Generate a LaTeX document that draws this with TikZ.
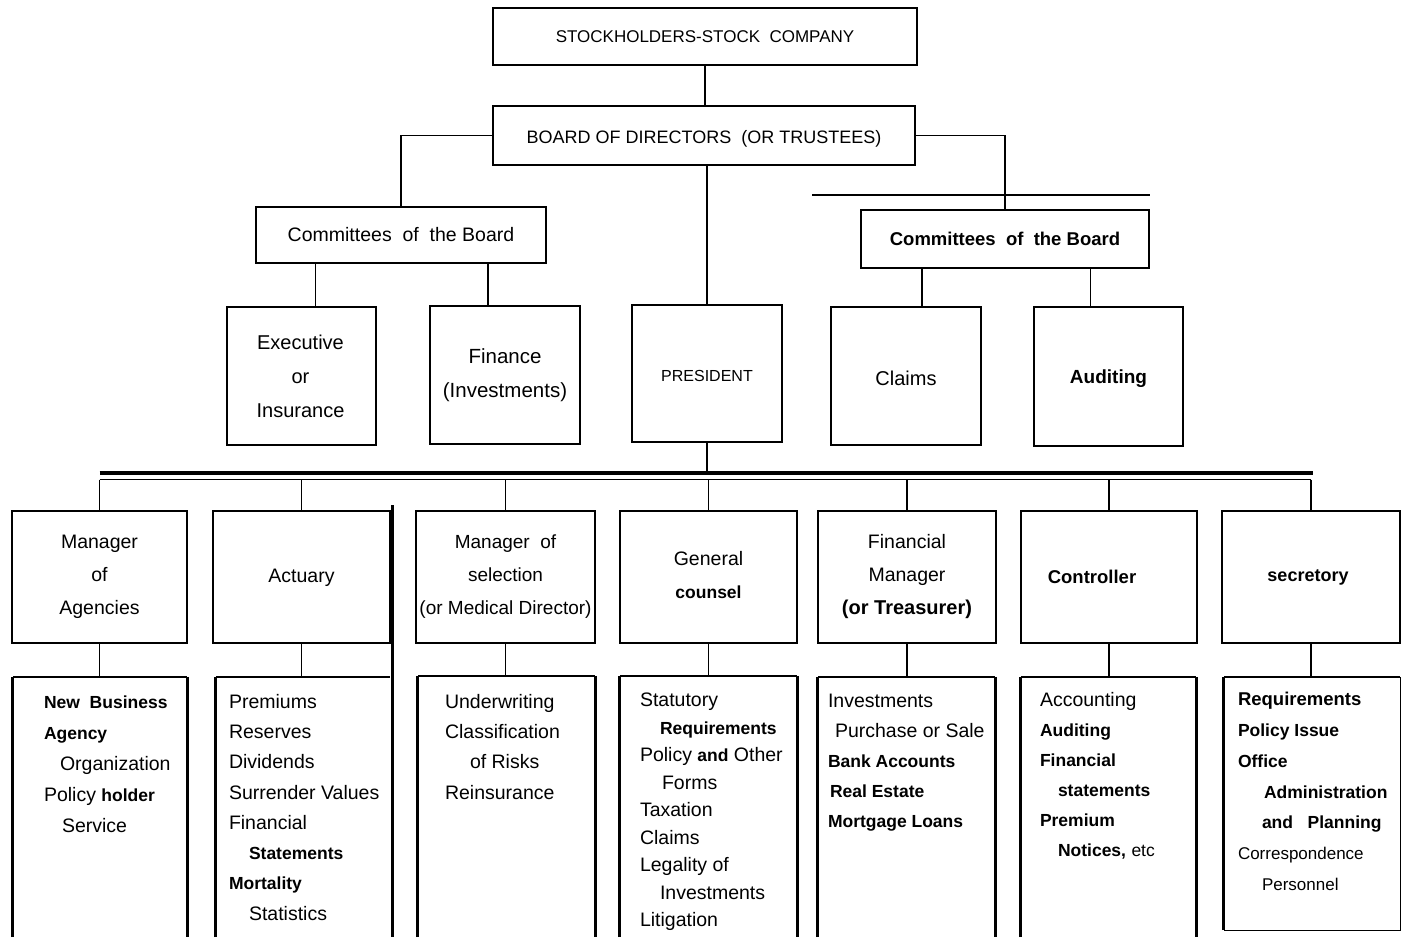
\documentclass[tikz,border=0pt]{standalone}
\usepackage{fontspec}
\setmainfont{Liberation Sans}
\usetikzlibrary{fit}
\newcommand\bld[1]{{\fontsize{17.5}{20}\selectfont\bfseries #1}}
\begin{document}
\begin{tikzpicture}[x=1pt,y=-1pt,
  box/.style={draw,line width=1.4pt,inner sep=0pt},
  heavy/.style={box,line width=2.6pt},
  wire/.style={line width=1.4pt},
  edge/.style={line width=3pt},
  open/.style={inner sep=0pt},
  lbl/.style={inner sep=0pt,align=center,anchor=center,font=\fontsize{19.5}{33}\selectfont},
  listtxt/.style={anchor=north west,align=left,inner sep=0pt,font=\fontsize{19.5}{30}\selectfont},
  ]
\useasboundingbox (0,0) rectangle (1405,937);

% top levels
\node[box,fit={(493,8) (917,65)}] (stock) {};
\node[box,fit={(493,106) (915,165)}] (board) {};
\node[box,fit={(256,207) (546,263)}] (cbL) {};
\node[box,fit={(861,210) (1149,268)}] (cbR) {};
\node[box,fit={(227,307) (376,445)}] (exec) {};
\node[heavy,fit={(430,306) (580,444)}] (fin) {};
\node[heavy,fit={(632,305) (782,442)}] (pres) {};
\node[heavy,fit={(831,307) (981,445)}] (claims) {};
\node[heavy,fit={(1034,307) (1183,446)}] (audit) {};

\node[lbl,font=\fontsize{17}{20}\selectfont] (tstock) at (stock.center) {STOCKHOLDERS-STOCK\ \ COMPANY};
\node[lbl,font=\fontsize{18}{20}\selectfont] (tboard) at ([yshift=-3pt]board.center) {BOARD\ OF\ DIRECTORS\ \ (OR\ TRUSTEES)};
\node[lbl] (tcbL) at (cbL.center) {Committees\ \ of\ \ the\ Board};
\node[lbl,font=\fontsize{18.5}{20}\selectfont\bfseries] (tcbR) at (cbR.center) {Committees\ \ of\ \ the\ Board};
\node[lbl,font=\fontsize{20}{34}\selectfont] (texec) at ([xshift=-1pt]exec.center) {Executive\\or\\Insurance};
\node[lbl,font=\fontsize{20.5}{34}\selectfont] (tfin) at (fin.center) {Finance\\(Investments)};
\node[lbl,font=\fontsize{16}{20}\selectfont] (tpres) at ([yshift=-2pt]pres.center) {PRESIDENT};
\node[lbl,font=\fontsize{20}{20}\selectfont] (tclaims) at ([yshift=-2pt]claims.center) {Claims};
\node[lbl,font=\fontsize{19}{20}\selectfont\bfseries] (taudit) at ([yshift=-2pt]audit.center) {Auditing};

% officers
\node[box,fit={(12,511) (187,643)}] (mA) {};
\node[box,fit={(213,511) (390,643)}] (act) {};
\node[box,fit={(416,511) (595,643)}] (sel) {};
\node[box,fit={(620,511) (797,643)}] (gc) {};
\node[box,fit={(818,511) (996,643)}] (fm) {};
\node[box,fit={(1021,511) (1197,643)}] (ctl) {};
\node[box,fit={(1222,511) (1400,643)}] (sec) {};

\node[lbl] (tmA) at (mA.center) {Manager\\of\\Agencies};
\node[lbl] (tact) at ([yshift=-1pt]act.center) {Actuary};
\node[lbl,font=\fontsize{19}{33}\selectfont] (tsel) at (sel.center) {Manager\ \ of\\selection\\(or\ Medical\ Director)};
\node[lbl] (tgc) at ([yshift=2pt]gc.center) {General\\\bld{counsel}};
\node[lbl] (tfm) at (fm.center) {Financial\\Manager\\{\fontsize{20}{20}\selectfont\bfseries (or Treasurer)}};
\node[lbl,font=\fontsize{18.5}{20}\selectfont\bfseries] (tctl) at ([xshift=-17pt]ctl.center) {Controller};
\node[lbl,font=\fontsize{18}{20}\selectfont\bfseries] (tsec) at ([xshift=-3pt]sec.center) {secretory};

% duty lists (open boxes)
\node[open,fit={(13,677) (187,937)}] (L1) {};
\node[open,fit={(216,677) (390,937)}] (L2) {};
\node[open,fit={(418,676) (595,937)}] (L3) {};
\node[open,fit={(620,676) (797,937)}] (L4) {};
\node[open,fit={(818,677) (995,937)}] (L5) {};
\node[open,fit={(1021,677) (1196,937)}] (L6) {};
\node[open,fit={(1224,677) (1400,930)}] (L7) {};
\foreach \n in {L1,L2,L3,L4,L5,L6,L7}{
  \draw[wire] (\n.north west) -- (\n.north east);
  \draw[edge] (\n.south west) -- (\n.north west);
}
\foreach \n in {L1,L3,L4,L5,L6}
  \draw[edge] (\n.north east) -- (\n.south east);
\draw[wire] (L7.north east) -- (L7.south east) -- (L7.south west);

\node[listtxt,font=\fontsize{19.5}{31}\selectfont] (t1) at ([xshift=31pt,yshift=-18.5pt]L1.north west)
  {\bld{New\ \ Business}\\\bld{Agency}\\\hspace*{16pt}Organization\\Policy \bld{holder}\\\hspace*{18pt}Service};
\node[listtxt,font=\fontsize{19.5}{30.3}\selectfont] (t2) at ([xshift=13pt,yshift=-17pt]L2.north west)
  {Premiums\\Reserves\\Dividends\\Surrender Values\\Financial\\\hspace*{20pt}\bld{Statements}\\\bld{Mortality}\\\hspace*{20pt}Statistics};
\node[listtxt,font=\fontsize{19.5}{30.3}\selectfont] (t3) at ([xshift=27pt,yshift=-18pt]L3.north west)
  {Underwriting\\Classification\\\hspace*{25pt}of Risks\\Reinsurance};
\node[listtxt,font=\fontsize{19.5}{27.5}\selectfont] (t4) at ([xshift=20pt,yshift=-17pt]L4.north west)
  {Statutory\\\hspace*{20pt}\bld{Requirements}\\Policy \bld{and} Other\\\hspace*{22pt}Forms\\Taxation\\Claims\\Legality of\\\hspace*{20pt}Investments\\Litigation};
\node[listtxt] (t5) at ([xshift=10pt,yshift=-17pt]L5.north west)
  {Investments\\\hspace*{7pt}Purchase or Sale\\\bld{Bank Accounts}\\\hspace*{2pt}\bld{Real Estate}\\\bld{Mortgage Loans}};
\node[listtxt] (t6) at ([xshift=19pt,yshift=-15pt]L6.north west)
  {Accounting\\\bld{Auditing}\\\bld{Financial}\\\hspace*{18pt}\bld{statements}\\\bld{Premium}\\\hspace*{18pt}\bld{Notices,} {\fontsize{17.5}{20}\selectfont etc}};
\node[listtxt,font=\fontsize{17}{30.7}\selectfont] (t7) at ([xshift=14pt,yshift=-15.5pt]L7.north west)
  {{\fontsize{18.5}{20}\selectfont\bfseries Requirements}\\\bld{Policy Issue}\\\bld{Office}\\\hspace*{26pt}\bld{Administration}\\\hspace*{24pt}\bld{and\ \ \ Planning}\\Correspondence\\\hspace*{24pt}Personnel};

% connectors
\draw[wire] (stock.south) -- (stock.south |- board.north);
\draw[wire] (board.west) -| (cbL.north);
\draw[wire] (board.east) -| (cbR.north);
\draw[line width=2.8pt] (board.south -| pres.north) -- (pres.north);
\draw[wire] ([xshift=14pt]exec.north) -- ([xshift=14pt]exec.north |- cbL.south);
\draw[wire] ([xshift=-17pt]fin.north) -- ([xshift=-17pt]fin.north |- cbL.south);
\draw[wire] ([xshift=16pt]claims.north) -- ([xshift=16pt]claims.north |- cbR.south);
\draw[wire] ([xshift=-18pt]audit.north) -- ([xshift=-18pt]audit.north |- cbR.south);

\coordinate (busT) at (0,473);
\coordinate (busB) at (0,479.5);
\draw[line width=3.2pt] (mA.north |- busT) -- ([xshift=2pt]sec.north |- busT);
\draw[wire] (mA.north |- busB) -- (sec.north |- busB);
\draw[wire] (pres.south) -- (pres.south |- busT);
\foreach \n in {mA,act,sel,gc,fm,ctl,sec}
  \draw[wire] (\n.north |- busB) -- (\n.north);
\foreach \a/\b in {mA/L1,act/L2,sel/L3,gc/L4,fm/L5,ctl/L6,sec/L7}
  \draw[wire] (\a.south) -- (\a.south |- \b.north);

% stray rules of the original
\coordinate (s1) at (812,195);
\coordinate (s2) at (1150,195);
\draw[wire] (s1) -- (s2);
\coordinate (s3) at (392,505);
\coordinate (s4) at (392,937);
\draw[line width=3pt] (s3) -- (s4);
\end{tikzpicture}
\end{document}
